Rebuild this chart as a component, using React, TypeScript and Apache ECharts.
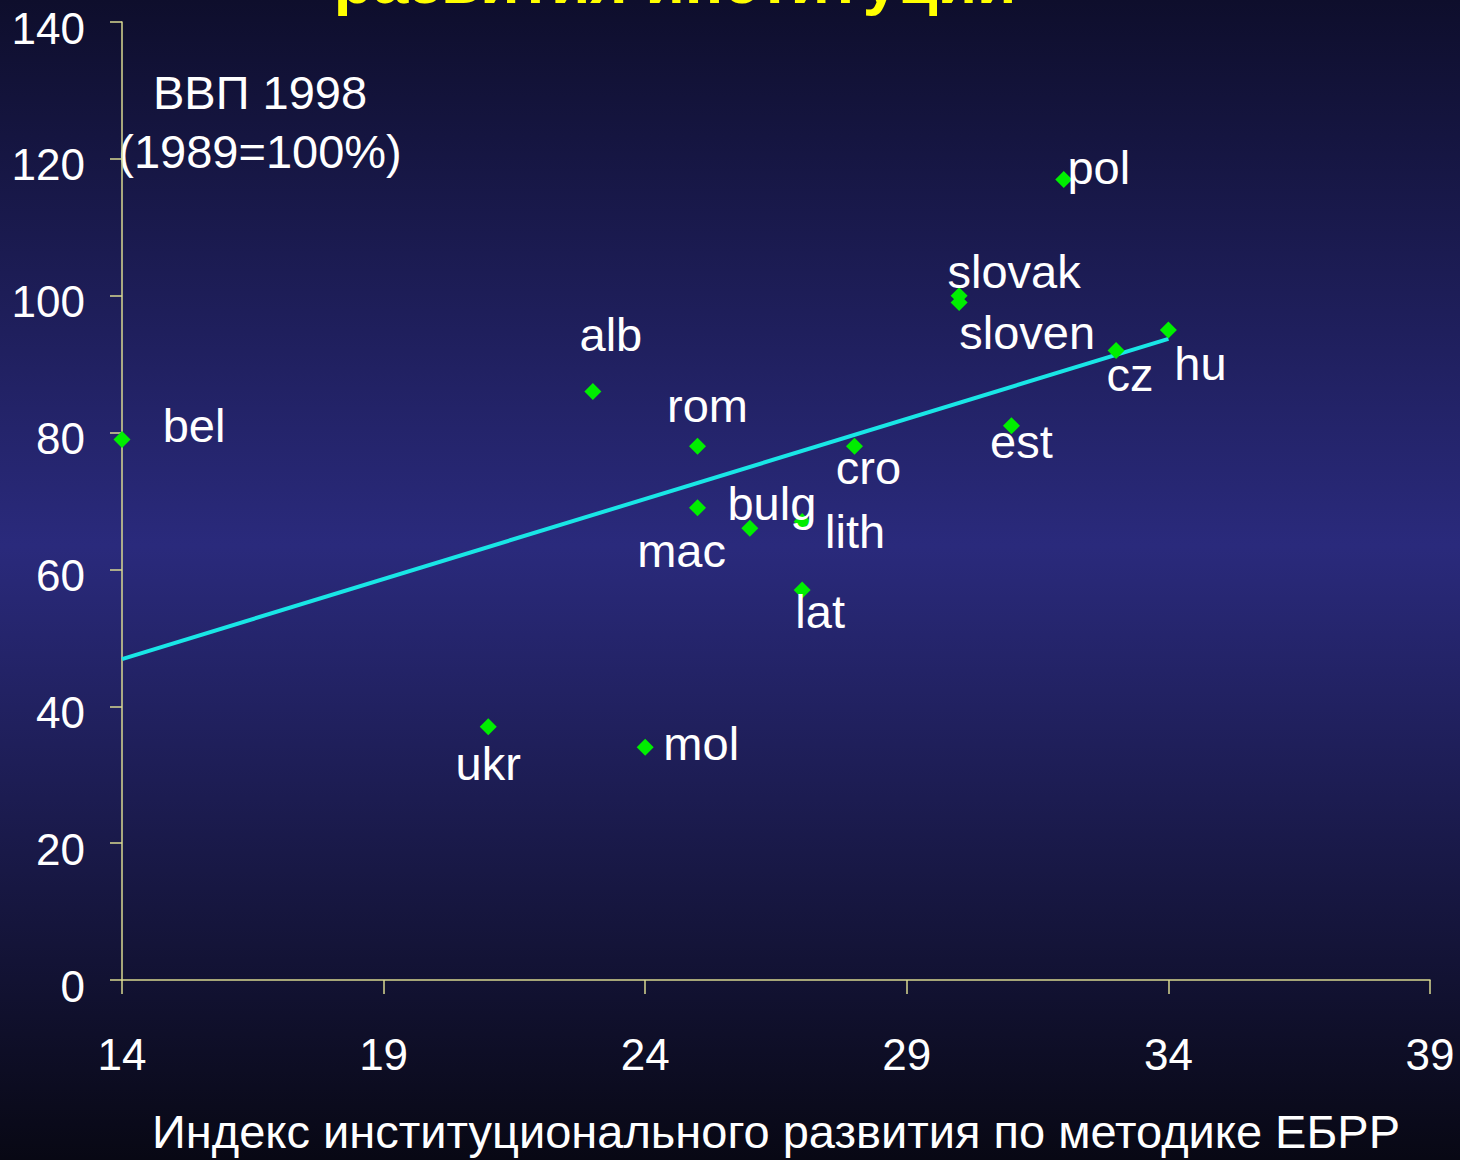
import React, { useEffect, useRef } from "react";
import * as echarts from "echarts";

// Data
const countries = ["bel", "alb", "rom", "mac", "bulg", "lith", "lat", "cro", "ukr", "mol", "slovak", "sloven", "pol", "est", "cz", "hu"];
const indexValues = [14, 23, 25, 25, 26, 27, 27, 28, 21, 24, 30, 30, 32, 31, 33, 34];
const gdpValues = [79, 86, 78, 69, 66, 67, 57, 78, 37, 34, 100, 99, 117, 81, 92, 95];
const trendX = [14, 34];
const trendY = [46.9, 93.7];
const xTicks = { min: 14, max: 39, interval: 5 };
const yTicks = { min: 0, max: 140, interval: 20 };

const titleText = "развития институций";
const yTitleLines = ["ВВП 1998", "(1989=100%)"];
const xAxisName = "Индекс институционального развития по методике ЕБРР";

// Label placement (pixel offsets from marker centre), styling only
const labelOffsets: Record<string, [number, number]> = {
  bel: [72, -14],
  alb: [18, -57],
  rom: [10, -41],
  mac: [-16, 43],
  bulg: [22, -25],
  lith: [53, 10],
  lat: [18, 22],
  cro: [14, 21],
  ukr: [0, 37],
  mol: [56, -4],
  slovak: [55, -24],
  sloven: [68, 30],
  pol: [35, -12],
  est: [10, 16],
  cz: [14, 24],
  hu: [32, 34],
};

const FONT = "'Liberation Sans', Arial, sans-serif";

export default function App() {
  const ref = useRef<HTMLDivElement>(null);

  useEffect(() => {
    document.body.style.margin = "0";
    const chart = echarts.init(ref.current!, undefined, { renderer: "svg" });

    const scatterData = countries.map((name, i) => ({
      name,
      value: [indexValues[i], gdpValues[i]],
      label: {
        show: true,
        position: "inside",
        offset: labelOffsets[name],
        formatter: name,
        color: "#ffffff",
        opacity: 1,
        fontSize: 47,
        fontFamily: FONT,
        align: "center",
        verticalAlign: "middle",
      },
    }));

    const option: any = {
      animation: false,
      backgroundColor: {
        type: "linear",
        x: 0,
        y: 0,
        x2: 0,
        y2: 1,
        colorStops: [
          { offset: 0, color: "#0e0e2c" },
          { offset: 0.47, color: "#2a2a7c" },
          { offset: 1, color: "#080814" },
        ],
      },
      grid: { left: 122, right: 30, top: 22, bottom: 177, containLabel: false },
      xAxis: {
        type: "value",
        min: xTicks.min,
        max: xTicks.max,
        interval: xTicks.interval,
        splitLine: { show: false },
        axisLine: { show: true, onZero: false, lineStyle: { color: "#d8d890", width: 1.5 } },
        axisTick: { show: true, length: 14, lineStyle: { color: "#d8d890", width: 1.5 } },
        axisLabel: {
          color: "#ffffff",
          fontSize: 44,
          fontFamily: FONT,
          margin: 52,
          showMinLabel: true,
          showMaxLabel: true,
        },
        name: xAxisName,
        nameLocation: "middle",
        nameGap: 128,
        nameTextStyle: { color: "#ffffff", fontSize: 47, fontFamily: FONT },
      },
      yAxis: {
        type: "value",
        min: yTicks.min,
        max: yTicks.max,
        interval: yTicks.interval,
        splitLine: { show: false },
        axisLine: { show: true, onZero: false, lineStyle: { color: "#d8d890", width: 1.5 } },
        axisTick: { show: true, length: 12, lineStyle: { color: "#d8d890", width: 1.5 } },
        axisLabel: {
          color: "#ffffff",
          fontSize: 44,
          fontFamily: FONT,
          margin: 37,
          verticalAlign: "top",
          lineHeight: 12,
        },
      },
      graphic: [
        {
          type: "text",
          x: 675,
          y: -19,
          style: {
            text: titleText,
            fill: "#ffff00",
            font: `bold 64px ${FONT}`,
            align: "center",
            verticalAlign: "middle",
          },
        },
        {
          type: "text",
          x: 260,
          y: 92,
          style: {
            text: yTitleLines[0],
            fill: "#ffffff",
            font: `47px ${FONT}`,
            align: "center",
            verticalAlign: "middle",
          },
        },
        {
          type: "text",
          x: 260,
          y: 151,
          style: {
            text: yTitleLines[1],
            fill: "#ffffff",
            font: `47px ${FONT}`,
            align: "center",
            verticalAlign: "middle",
          },
        },
      ],
      series: [
        {
          type: "line",
          data: trendX.map((x, i) => [x, trendY[i]]),
          showSymbol: false,
          symbol: "none",
          lineStyle: { color: "#19e6e6", width: 4 },
          z: 2,
        },
        {
          type: "scatter",
          data: scatterData,
          symbol: "diamond",
          symbolSize: 17,
          itemStyle: { color: "#00ee00", opacity: 1 },
          z: 3,
        },
      ],
    };

    chart.setOption(option);
    return () => chart.dispose();
  }, []);

  return (
    <div
      ref={ref}
      style={{ position: "fixed", left: 0, top: 0, width: 1460, height: 1160 }}
    />
  );
}
